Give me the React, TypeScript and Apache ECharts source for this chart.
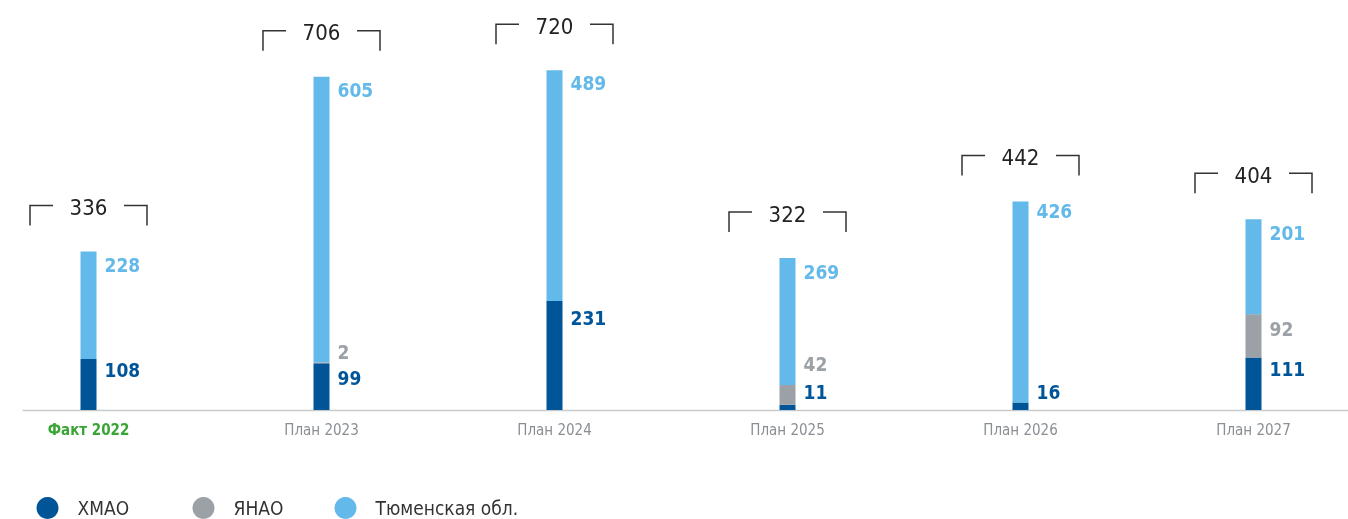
import React, { useEffect, useRef } from "react";
import * as echarts from "echarts";

const categories = ["Факт 2022", "План 2023", "План 2024", "План 2025", "План 2026", "План 2027"];
const khmao = [108, 99, 231, 11, 16, 111];
const yanao = [0, 2, 0, 42, 0, 92];
const tyumen = [228, 605, 489, 269, 426, 201];
const totals = [336, 706, 720, 322, 442, 404];
const seriesNames = ["ХМАО", "ЯНАО", "Тюменская обл."];

const COLORS = { khmao: "#005598", yanao: "#9ba1a6", tyumen: "#63b9e9" };
const FONT = "'Liberation Sans Narrow', 'DejaVu Sans Condensed', 'Roboto', sans-serif";

const OFF = 28.5; // chart canvas starts left of the page edge

// label vertical offsets (style only)
const dyK = [11, 15, 17, -13, -10, 11];
const dyY = [0, -10, 0, -21, 0, 15];
const dyT = [14, 13, 13, 14, 10, 14];

export default function App() {
  const ref = useRef<HTMLDivElement>(null);
  useEffect(() => {
    if (!ref.current) return;
    const chart = echarts.init(ref.current, null, { renderer: "svg" });
    const labelBase = (color: string) => ({
      show: true,
      align: "left",
      verticalAlign: "middle",
      color,
      fontFamily: FONT,
      fontWeight: "bold",
      fontSize: 19,
    });
    const mk = (vals: number[], dys: number[], color: string) =>
      vals.map((v, i) => ({
        value: v,
        label: { ...labelBase(color), show: v > 0, position: [24, dys[i]] },
      }));
    const legendCommon = {
      top: 492,
      itemWidth: 22,
      itemHeight: 22,
      icon: "circle",
      textStyle: { fontFamily: FONT, fontSize: 19, color: "#333", padding: [0, 0, 0, 14] },
    };
    chart.setOption({
      animation: false,
      grid: { left: 0, right: 0, top: 32.4, bottom: 109 },
      legend: [
        { ...legendCommon, left: 31 + OFF, data: [seriesNames[0]] },
        { ...legendCommon, left: 187 + OFF, data: [seriesNames[1]] },
        { ...legendCommon, left: 329 + OFF, data: [seriesNames[2]] },
      ],
      xAxis: {
        type: "category",
        data: categories,
        axisLine: { show: false },
        axisTick: { show: false },
        axisLabel: {
          margin: 12,
          fontFamily: FONT,
          fontSize: 15,
          color: "#8a8f94",
          formatter: (v: string) => (v === categories[0] ? "{hl|" + v + "}" : v),
          rich: { hl: { color: "#3aa535", fontWeight: "bold", fontSize: 15, fontFamily: FONT } },
        },
      },
      yAxis: { type: "value", min: 0, max: 800, show: false, splitLine: { show: false } },
      graphic: [
        {
          type: "line",
          z: 0,
          shape: { x1: 22 + OFF, y1: 410.5, x2: 1348 + OFF, y2: 410.5 },
          style: { stroke: "#c8cacc", lineWidth: 1.5 },
        },
      ],
      series: [
        {
          name: seriesNames[0],
          type: "bar",
          stack: "a",
          barWidth: 16,
          itemStyle: { color: COLORS.khmao },
          data: mk(khmao, dyK, COLORS.khmao),
        },
        {
          name: seriesNames[1],
          type: "bar",
          stack: "a",
          barWidth: 16,
          itemStyle: { color: COLORS.yanao },
          data: mk(yanao, dyY, COLORS.yanao),
        },
        {
          name: seriesNames[2],
          type: "bar",
          stack: "a",
          barWidth: 16,
          itemStyle: { color: COLORS.tyumen },
          data: mk(tyumen, dyT, COLORS.tyumen),
        },
        {
          type: "custom",
          silent: true,
          data: totals.map((t, i) => [i, t]),
          encode: { x: 0, y: 1 },
          renderItem: (params: any, api: any) => {
            const idx = api.value(0);
            const total = api.value(1);
            const p = api.coord([idx, total]);
            const x = p[0];
            const y = Math.max(15, p[1] - 46);
            const hw = 58.5, seg = 23, drop = 20;
            const lineStyle = { stroke: "#333", lineWidth: 1.5, fill: null };
            return {
              type: "group",
              children: [
                { type: "polyline", shape: { points: [[x - hw, y + drop], [x - hw, y], [x - hw + seg, y]] }, style: lineStyle },
                { type: "polyline", shape: { points: [[x + hw - seg, y], [x + hw, y], [x + hw, y + drop]] }, style: lineStyle },
                {
                  type: "text",
                  x,
                  y: y + 2,
                  style: {
                    text: String(total),
                    fill: "#222",
                    fontFamily: FONT,
                    fontSize: 22,
                    align: "center",
                    verticalAlign: "middle",
                  },
                },
              ],
            };
          },
        },
      ],
    });
    return () => chart.dispose();
  }, []);
  return (
    <div style={{ position: "fixed", left: 0, top: 0, width: 1348, height: 519, overflow: "hidden" }}>
      <div ref={ref} style={{ position: "absolute", left: -OFF, top: 0, width: 1348 + OFF + 21.5, height: 519 }} />
    </div>
  );
}
